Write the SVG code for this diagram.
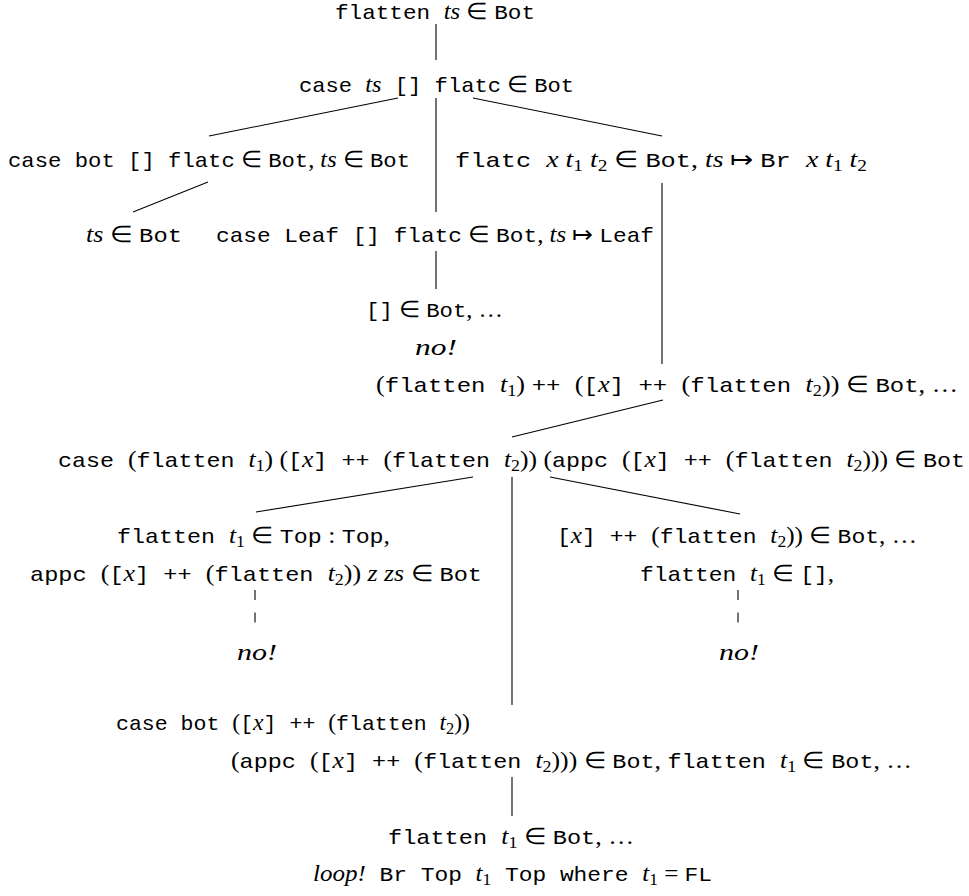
<svg xmlns="http://www.w3.org/2000/svg" width="969" height="896" viewBox="0 0 969 896">
<style>
text{fill:#000;text-anchor:start;font-family:"Liberation Serif",serif;font-size:23px}
.t{font-family:"Liberation Mono",monospace;font-size:21px;font-style:normal}
.m{font-family:"Liberation Serif",serif;font-style:italic;font-size:23px}
.r{font-family:"Liberation Serif",serif;font-style:normal;font-size:23px}
.s{font-size:16px}
.c line{stroke:#000;stroke-width:1.1}
.c .d{stroke-dasharray:10 12.5}
</style>
<rect width="969" height="896" fill="#fff"/>
<g class="c" id="connectors">
<line x1="436" y1="24" x2="436" y2="60"/>
<line x1="398" y1="98" x2="209" y2="136"/>
<line x1="436" y1="98" x2="436" y2="212"/>
<line x1="473" y1="98" x2="662" y2="136"/>
<line x1="208" y1="182" x2="133" y2="212"/>
<line x1="662" y1="183" x2="662" y2="364"/>
<line x1="436" y1="251" x2="436" y2="289"/>
<line x1="663" y1="400" x2="512" y2="437"/>
<line x1="473" y1="477" x2="256" y2="512"/>
<line x1="512" y1="477" x2="512" y2="705"/>
<line x1="550" y1="477" x2="740" y2="514"/>
<line class="d" x1="255" y1="590" x2="255" y2="623"/>
<line class="d" x1="738" y1="590" x2="738" y2="623"/>
<line x1="512" y1="777" x2="512" y2="816"/>
</g>
<g id="n1"><text x="335" y="19" textLength="200" lengthAdjust="spacingAndGlyphs"><tspan class="t">flatten </tspan><tspan class="m">ts</tspan><tspan class="r"> ∈ </tspan><tspan class="t">Bot</tspan></text></g>
<g id="n2"><text x="299" y="92" textLength="275" lengthAdjust="spacingAndGlyphs"><tspan class="t">case </tspan><tspan class="m">ts</tspan><tspan class="t"> [] flatc</tspan><tspan class="r"> ∈ </tspan><tspan class="t">Bot</tspan></text></g>
<g id="n3"><text x="8" y="167" textLength="402" lengthAdjust="spacingAndGlyphs"><tspan class="t">case bot [] flatc</tspan><tspan class="r"> ∈ </tspan><tspan class="t">Bot</tspan><tspan class="r">, </tspan><tspan class="m">ts</tspan><tspan class="r"> ∈ </tspan><tspan class="t">Bot</tspan></text></g>
<g id="n4"><text x="455" y="167" textLength="412" lengthAdjust="spacingAndGlyphs"><tspan class="t">flatc </tspan><tspan class="m">x t</tspan><tspan class="s" dy="4">1</tspan><tspan class="m" dy="-4"> t</tspan><tspan class="s" dy="4">2</tspan><tspan class="r" dy="-4"> ∈ </tspan><tspan class="t">Bot</tspan><tspan class="r">, </tspan><tspan class="m">ts</tspan><tspan class="r"> ↦ </tspan><tspan class="t">Br </tspan><tspan class="m">x t</tspan><tspan class="s" dy="4">1</tspan><tspan class="m" dy="-4"> t</tspan><tspan class="s" dy="4">2</tspan></text></g>
<g id="n5"><text x="86" y="242" textLength="96" lengthAdjust="spacingAndGlyphs"><tspan class="m">ts</tspan><tspan class="r"> ∈ </tspan><tspan class="t">Bot</tspan></text></g>
<g id="n6"><text x="216" y="242" textLength="438" lengthAdjust="spacingAndGlyphs"><tspan class="t">case Leaf [] flatc</tspan><tspan class="r"> ∈ </tspan><tspan class="t">Bot</tspan><tspan class="r">, </tspan><tspan class="m">ts</tspan><tspan class="r"> ↦ </tspan><tspan class="t">Leaf</tspan></text></g>
<g id="n7"><text x="366" y="317" textLength="137" lengthAdjust="spacingAndGlyphs"><tspan class="t">[]</tspan><tspan class="r"> ∈ </tspan><tspan class="t">Bot</tspan><tspan class="r">, …</tspan></text>
<text x="415" y="355" class="m" textLength="42" lengthAdjust="spacingAndGlyphs">no!</text></g>
<g id="n8"><text x="376" y="392" textLength="582" lengthAdjust="spacingAndGlyphs"><tspan class="r">(</tspan><tspan class="t">flatten </tspan><tspan class="m">t</tspan><tspan class="s" dy="4">1</tspan><tspan class="r" dy="-4">) </tspan><tspan class="t">++ </tspan><tspan class="r">(</tspan><tspan class="t">[</tspan><tspan class="m">x</tspan><tspan class="t">] ++ </tspan><tspan class="r">(</tspan><tspan class="t">flatten </tspan><tspan class="m">t</tspan><tspan class="s" dy="4">2</tspan><tspan class="r" dy="-4">)) ∈ </tspan><tspan class="t">Bot</tspan><tspan class="r">, …</tspan></text></g>
<g id="n9"><text x="58" y="467" textLength="907" lengthAdjust="spacingAndGlyphs"><tspan class="t">case </tspan><tspan class="r">(</tspan><tspan class="t">flatten </tspan><tspan class="m">t</tspan><tspan class="s" dy="4">1</tspan><tspan class="r" dy="-4">) (</tspan><tspan class="t">[</tspan><tspan class="m">x</tspan><tspan class="t">] ++ </tspan><tspan class="r">(</tspan><tspan class="t">flatten </tspan><tspan class="m">t</tspan><tspan class="s" dy="4">2</tspan><tspan class="r" dy="-4">)) (</tspan><tspan class="t">appc </tspan><tspan class="r">(</tspan><tspan class="t">[</tspan><tspan class="m">x</tspan><tspan class="t">] ++ </tspan><tspan class="r">(</tspan><tspan class="t">flatten </tspan><tspan class="m">t</tspan><tspan class="s" dy="4">2</tspan><tspan class="r" dy="-4">))) ∈ </tspan><tspan class="t">Bot</tspan></text></g>
<g id="n10"><text x="117" y="543" textLength="273" lengthAdjust="spacingAndGlyphs"><tspan class="t">flatten </tspan><tspan class="m">t</tspan><tspan class="s" dy="4">1</tspan><tspan class="r" dy="-4"> ∈ </tspan><tspan class="t">Top</tspan><tspan class="r"> : </tspan><tspan class="t">Top</tspan><tspan class="r">,</tspan></text>
<text x="30" y="581" textLength="452" lengthAdjust="spacingAndGlyphs"><tspan class="t">appc </tspan><tspan class="r">(</tspan><tspan class="t">[</tspan><tspan class="m">x</tspan><tspan class="t">] ++ </tspan><tspan class="r">(</tspan><tspan class="t">flatten </tspan><tspan class="m">t</tspan><tspan class="s" dy="4">2</tspan><tspan class="r" dy="-4">)) </tspan><tspan class="m">z zs</tspan><tspan class="r"> ∈ </tspan><tspan class="t">Bot</tspan></text></g>
<g id="n11"><text x="237" y="660" class="m" textLength="40" lengthAdjust="spacingAndGlyphs">no!</text></g>
<g id="n12"><text x="557" y="543" textLength="360" lengthAdjust="spacingAndGlyphs"><tspan class="t">[</tspan><tspan class="m">x</tspan><tspan class="t">] ++ </tspan><tspan class="r">(</tspan><tspan class="t">flatten </tspan><tspan class="m">t</tspan><tspan class="s" dy="4">2</tspan><tspan class="r" dy="-4">)) ∈ </tspan><tspan class="t">Bot</tspan><tspan class="r">, …</tspan></text>
<text x="640" y="581" textLength="194" lengthAdjust="spacingAndGlyphs"><tspan class="t">flatten </tspan><tspan class="m">t</tspan><tspan class="s" dy="4">1</tspan><tspan class="r" dy="-4"> ∈ </tspan><tspan class="t">[]</tspan><tspan class="r">,</tspan></text></g>
<g id="n13"><text x="719" y="660" class="m" textLength="40" lengthAdjust="spacingAndGlyphs">no!</text></g>
<g id="n14"><text x="116" y="730" textLength="354" lengthAdjust="spacingAndGlyphs"><tspan class="t">case bot </tspan><tspan class="r">(</tspan><tspan class="t">[</tspan><tspan class="m">x</tspan><tspan class="t">] ++ </tspan><tspan class="r">(</tspan><tspan class="t">flatten </tspan><tspan class="m">t</tspan><tspan class="s" dy="4">2</tspan><tspan class="r" dy="-4">))</tspan></text>
<text x="231" y="768" textLength="681" lengthAdjust="spacingAndGlyphs"><tspan class="r">(</tspan><tspan class="t">appc </tspan><tspan class="r">(</tspan><tspan class="t">[</tspan><tspan class="m">x</tspan><tspan class="t">] ++ </tspan><tspan class="r">(</tspan><tspan class="t">flatten </tspan><tspan class="m">t</tspan><tspan class="s" dy="4">2</tspan><tspan class="r" dy="-4">))) ∈ </tspan><tspan class="t">Bot</tspan><tspan class="r">, </tspan><tspan class="t">flatten </tspan><tspan class="m">t</tspan><tspan class="s" dy="4">1</tspan><tspan class="r" dy="-4"> ∈ </tspan><tspan class="t">Bot</tspan><tspan class="r">, …</tspan></text></g>
<g id="n15"><text x="388" y="844" textLength="246" lengthAdjust="spacingAndGlyphs"><tspan class="t">flatten </tspan><tspan class="m">t</tspan><tspan class="s" dy="4">1</tspan><tspan class="r" dy="-4"> ∈ </tspan><tspan class="t">Bot</tspan><tspan class="r">, …</tspan></text>
<text x="313" y="881" textLength="399" lengthAdjust="spacingAndGlyphs"><tspan class="m">loop!</tspan><tspan class="t"> Br Top </tspan><tspan class="m">t</tspan><tspan class="s" dy="4">1</tspan><tspan class="t" dy="-4"> Top where </tspan><tspan class="m">t</tspan><tspan class="s" dy="4">1</tspan><tspan class="r" dy="-4"> = </tspan><tspan class="t">FL</tspan></text></g>
</svg>
